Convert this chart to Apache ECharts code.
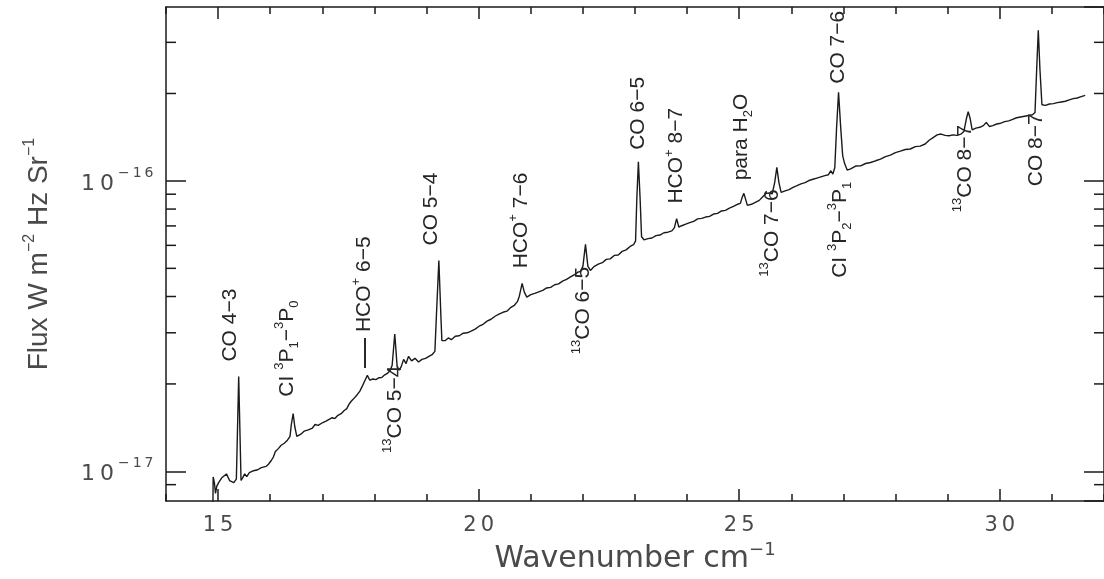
<!DOCTYPE html>
<html>
<head>
<meta charset="utf-8">
<script src="https://cdn.jsdelivr.net/npm/echarts@6/dist/echarts.min.js"></script>
<style>
  html, body { margin: 0; padding: 0; background: #ffffff; }
  #chart { width: 1104px; height: 579px; }
</style>
</head>
<body>
<div id="chart"></div>
<script>
// Submillimetre spectrum: wavenumber (cm^-1) and flux (W m^-2 Hz^-1 sr^-1)
const wavenumber = [
  14.90, 14.905, 14.93, 14.95, 14.975, 15.01, 15.07, 15.16, 15.22, 15.30,
  15.35, 15.37, 15.395, 15.42, 15.44, 15.47, 15.51, 15.55, 15.60, 15.68,
  15.76, 15.83, 15.92, 15.97, 16.02, 16.06, 16.10, 16.16, 16.21, 16.27,
  16.33, 16.38, 16.405, 16.44, 16.47, 16.51, 16.58, 16.65, 16.73, 16.81,
  16.86, 16.92, 17.00, 17.07, 17.13, 17.19, 17.24, 17.30, 17.36, 17.42,
  17.47, 17.51, 17.55, 17.59, 17.625, 17.673, 17.72, 17.77, 17.815, 17.864,
  17.911, 17.97, 18.026, 18.083, 18.14, 18.198, 18.255, 18.30, 18.34, 18.39,
  18.436, 18.474, 18.512, 18.56, 18.607, 18.655, 18.712, 18.779, 18.846, 18.912,
  18.98, 19.046, 19.113, 19.16, 19.189, 19.236, 19.275, 19.294, 19.36, 19.418,
  19.475, 19.551, 19.627, 19.704, 19.78, 19.856, 19.932, 20.009, 20.085, 20.161,
  20.237, 20.314, 20.39, 20.466, 20.542, 20.619, 20.685, 20.743, 20.78, 20.834,
  20.876, 20.924, 21.0, 21.076, 21.153, 21.229, 21.305, 21.381, 21.458, 21.534,
  21.61, 21.686, 21.763, 21.839, 21.906, 21.953, 22.0, 22.05, 22.096, 22.144,
  22.22, 22.296, 22.373, 22.449, 22.525, 22.601, 22.678, 22.754, 22.83, 22.906,
  22.973, 23.011, 23.036, 23.065, 23.097, 23.126, 23.173, 23.25, 23.326, 23.402,
  23.478, 23.555, 23.631, 23.707, 23.755, 23.799, 23.84, 23.897, 23.974, 24.05,
  24.126, 24.202, 24.279, 24.355, 24.431, 24.507, 24.584, 24.66, 24.736, 24.812,
  24.889, 24.965, 25.022, 25.057, 25.089, 25.123, 25.156, 25.232, 25.309, 25.385,
  25.461, 25.518, 25.575, 25.633, 25.68, 25.722, 25.762, 25.804, 25.88, 25.957,
  26.033, 26.109, 26.185, 26.262, 26.338, 26.414, 26.49, 26.567, 26.643, 26.71,
  26.758, 26.796, 26.834, 26.868, 26.906, 26.948, 26.986, 27.024, 27.072, 27.139,
  27.234, 27.33, 27.425, 27.52, 27.616, 27.711, 27.806, 27.901, 27.997, 28.092,
  28.187, 28.283, 28.378, 28.473, 28.569, 28.645, 28.721, 28.797, 28.874, 28.95,
  29.026, 29.102, 29.179, 29.255, 29.312, 29.36, 29.394, 29.432, 29.47, 29.541,
  29.617, 29.684, 29.742, 29.799, 29.866, 29.942, 30.018, 30.095, 30.171, 30.247,
  30.323, 30.4, 30.476, 30.552, 30.628, 30.676, 30.708, 30.739, 30.771, 30.809,
  30.876, 30.952, 31.029, 31.105, 31.181, 31.257, 31.334, 31.41, 31.486, 31.562,
  31.639
];
const flux = [
  7.5e-18, 9.57e-18, 9.1e-18, 8.4e-18, 8.9e-18, 9.15e-18, 9.5e-18, 9.8e-18, 9.3e-18, 9.15e-18,
  9.4e-18, 1.34e-17, 2.12e-17, 1.34e-17, 9.3e-18, 9.5e-18, 9.8e-18, 9.6e-18, 9.9e-18, 1.005e-17,
  1.013e-17, 1.03e-17, 1.04e-17, 1.06e-17, 1.09e-17, 1.12e-17, 1.17e-17, 1.20e-17, 1.23e-17, 1.25e-17,
  1.28e-17, 1.32e-17, 1.45e-17, 1.58e-17, 1.43e-17, 1.32e-17, 1.34e-17, 1.375e-17, 1.39e-17, 1.41e-17,
  1.45e-17, 1.44e-17, 1.47e-17, 1.49e-17, 1.51e-17, 1.53e-17, 1.52e-17, 1.56e-17, 1.58e-17, 1.62e-17,
  1.645e-17, 1.70e-17, 1.74e-17, 1.77e-17, 1.78e-17, 1.84e-17, 1.89e-17, 1.97e-17, 2.05e-17, 2.14e-17,
  2.06e-17, 2.08e-17, 2.07e-17, 2.10e-17, 2.105e-17, 2.15e-17, 2.18e-17, 2.22e-17, 2.32e-17, 2.97e-17,
  2.29e-17, 2.23e-17, 2.29e-17, 2.43e-17, 2.35e-17, 2.49e-17, 2.40e-17, 2.45e-17, 2.38e-17, 2.43e-17,
  2.45e-17, 2.49e-17, 2.53e-17, 2.59e-17, 3.43e-17, 5.32e-17, 3.43e-17, 2.82e-17, 2.82e-17, 2.88e-17,
  2.84e-17, 2.92e-17, 2.93e-17, 2.99e-17, 3.00e-17, 3.04e-17, 3.09e-17, 3.16e-17, 3.21e-17, 3.29e-17,
  3.34e-17, 3.42e-17, 3.48e-17, 3.53e-17, 3.56e-17, 3.67e-17, 3.73e-17, 3.84e-17, 4.01e-17, 4.44e-17,
  4.14e-17, 3.98e-17, 4.06e-17, 4.10e-17, 4.15e-17, 4.20e-17, 4.28e-17, 4.30e-17, 4.39e-17, 4.42e-17,
  4.52e-17, 4.58e-17, 4.67e-17, 4.76e-17, 4.85e-17, 4.88e-17, 5.08e-17, 6.05e-17, 5.08e-17, 4.92e-17,
  5.08e-17, 5.17e-17, 5.23e-17, 5.37e-17, 5.39e-17, 5.54e-17, 5.56e-17, 5.72e-17, 5.79e-17, 5.95e-17,
  6.03e-17, 6.22e-17, 8.78e-17, 1.163e-16, 8.78e-17, 6.42e-17, 6.27e-17, 6.33e-17, 6.36e-17, 6.48e-17,
  6.51e-17, 6.63e-17, 6.66e-17, 6.73e-17, 6.89e-17, 7.42e-17, 6.94e-17, 7.01e-17, 7.10e-17, 7.18e-17,
  7.26e-17, 7.40e-17, 7.43e-17, 7.51e-17, 7.55e-17, 7.69e-17, 7.73e-17, 7.88e-17, 7.92e-17, 8.06e-17,
  8.17e-17, 8.31e-17, 8.37e-17, 8.78e-17, 9.06e-17, 8.64e-17, 8.24e-17, 8.31e-17, 8.44e-17, 8.57e-17,
  8.85e-17, 9.06e-17, 9.09e-17, 9.02e-17, 9.87e-17, 1.114e-16, 9.87e-17, 9.13e-17, 9.24e-17, 9.33e-17,
  9.50e-17, 9.63e-17, 9.77e-17, 9.86e-17, 1.003e-16, 1.013e-16, 1.023e-16, 1.033e-16, 1.043e-16, 1.050e-16,
  1.084e-16, 1.055e-16, 1.11e-16, 1.52e-16, 2.02e-16, 1.52e-16, 1.22e-16, 1.145e-16, 1.09e-16, 1.10e-16,
  1.125e-16, 1.127e-16, 1.148e-16, 1.157e-16, 1.173e-16, 1.188e-16, 1.213e-16, 1.227e-16, 1.252e-16, 1.266e-16,
  1.283e-16, 1.288e-16, 1.312e-16, 1.318e-16, 1.34e-16, 1.38e-16, 1.41e-16, 1.44e-16, 1.45e-16, 1.435e-16,
  1.43e-16, 1.44e-16, 1.435e-16, 1.45e-16, 1.48e-16, 1.64e-16, 1.73e-16, 1.64e-16, 1.50e-16, 1.52e-16,
  1.53e-16, 1.55e-16, 1.59e-16, 1.54e-16, 1.55e-16, 1.57e-16, 1.58e-16, 1.60e-16, 1.61e-16, 1.63e-16,
  1.65e-16, 1.66e-16, 1.67e-16, 1.68e-16, 1.69e-16, 1.72e-16, 2.42e-16, 3.30e-16, 2.42e-16, 1.83e-16,
  1.82e-16, 1.84e-16, 1.845e-16, 1.86e-16, 1.87e-16, 1.88e-16, 1.90e-16, 1.92e-16, 1.93e-16, 1.95e-16,
  1.97e-16
];

// Identified transitions: rest wavenumber (cm^-1) and rich-text name
const lineWavenumbers = [
  15.38, 16.42, 17.85, 18.38, 19.22, 20.82, 22.05, 23.07,
  23.79, 25.09, 25.72, 26.91, 27.00, 29.40, 30.75
];
const lineNames = [
  'CO 4−3',
  'CI {sup|3}P{sub|1}−{sup|3}P{sub|0}',
  '{dash|—} HCO{sup|+} 6−5',
  '{sup|13}CO 5−4',
  'CO 5−4',
  'HCO{sup|+} 7−6',
  '{sup|13}CO 6−5',
  'CO 6−5',
  'HCO{sup|+} 8−7',
  'para H{sub|2}O',
  '{sup|13}CO 7−6',
  'CO 7−6',
  'CI {sup|3}P{sub|2}−{sup|3}P{sub|1}',
  '{sup|13}CO 8−7',
  'CO 8−7'
];

// Axis ranges and tick values
const X_MIN = 14, X_MAX = 32;
const Y_MIN = 7.9e-18, Y_MAX = 3.97e-16;
const xMajorTicks = [15, 20, 25, 30];
const yMinorTicks = [9e-18, 2e-17, 3e-17, 4e-17, 5e-17, 6e-17, 7e-17, 8e-17, 9e-17, 2e-16, 3e-16];

// Label placement relative to each line's peak (pixels): above or below the trace
const LABEL_LAYOUT = [
  { below: false, dx: -8.5, dy: -15 },
  { below: false, dx: -6, dy: -17 },
  { below: false, dx: -3, dy: -7.5 },
  { below: true,  dx: 0,  dy: 31.5 },
  { below: false, dx: -8, dy: -15 },
  { below: false, dx: -1, dy: -15 },
  { below: true,  dx: -2, dy: 22.5 },
  { below: false, dx: 0,  dy: -12 },
  { below: false, dx: 0,  dy: -15 },
  { below: false, dx: -3, dy: -13 },
  { below: true,  dx: -5, dy: 22 },
  { below: false, dx: 0,  dy: -8.5 },
  { below: true,  dx: -3, dy: 26 },
  { below: true,  dx: -3, dy: 13 },
  { below: true,  dx: -2, dy: 83 }
];

const INK = '#1a1a1a';
const LABEL_INK = '#262626';
const AXIS_TEXT = '#4a4a4a';
const TICK_FONT = 'DejaVu Sans';
const LABEL_FONT = 'Liberation Sans';

const spectrum = wavenumber.map((w, i) => [w, flux[i]]);

const frameLine = { show: true, onZero: false, lineStyle: { color: INK, width: 1.5 } };
const tickStyle = { color: INK, width: 1.5 };

// Spread each character into its own rich token so the digits sit apart
function spaced(str, style) {
  return str.split('').map(c => '{' + style + '|' + c + '}').join('');
}

function xTickLabel(v) {
  return spaced(String(v), 'd');
}

function yTickLabel(v) {
  const e = Math.log10(v);
  if (Math.abs(e - Math.round(e)) > 1e-6) return '';
  const p = Math.round(e);
  return spaced('10', 'b') + spaced((p < 0 ? '−' + (-p) : String(p)), 's');
}

const chart = echarts.init(document.getElementById('chart'), null, { renderer: 'canvas' });

const option = {
  animation: false,
  backgroundColor: '#ffffff',
  grid: { left: 166, right: -6, top: 7, bottom: 71, containLabel: false },
  xAxis: [
    {
      type: 'value', min: X_MIN, max: X_MAX, interval: 1, position: 'bottom',
      axisLine: frameLine,
      axisTick: { show: true, inside: true, length: 7, lineStyle: tickStyle },
      axisLabel: {
        customValues: xMajorTicks, margin: 14, formatter: xTickLabel,
        rich: {
          d: { fontFamily: TICK_FONT, fontSize: 21, color: AXIS_TEXT, padding: [0, 2] }
        }
      },
      splitLine: { show: false },
      name: '{t|Wavenumber cm}{s|−1}',
      nameLocation: 'middle', nameGap: 32,
      nameTextStyle: {
        rich: {
          t: { fontFamily: TICK_FONT, fontSize: 30, color: AXIS_TEXT, lineHeight: 36 },
          s: { fontFamily: TICK_FONT, fontSize: 18, color: AXIS_TEXT, lineHeight: 20, verticalAlign: 'top' }
        }
      }
    },
    {
      type: 'value', min: X_MIN, max: X_MAX, position: 'bottom',
      axisLine: { show: false },
      axisTick: { show: true, inside: true, length: 12, customValues: xMajorTicks, lineStyle: tickStyle },
      axisLabel: { show: false }, splitLine: { show: false }
    },
    {
      type: 'value', min: X_MIN, max: X_MAX, interval: 1, position: 'top',
      axisLine: frameLine,
      axisTick: { show: true, inside: true, length: 7, lineStyle: tickStyle },
      axisLabel: { show: false }, splitLine: { show: false }
    },
    {
      type: 'value', min: X_MIN, max: X_MAX, position: 'top',
      axisLine: { show: false },
      axisTick: { show: true, inside: true, length: 12, customValues: xMajorTicks, lineStyle: tickStyle },
      axisLabel: { show: false }, splitLine: { show: false }
    }
  ],
  yAxis: [
    {
      type: 'log', logBase: 10, min: Y_MIN, max: Y_MAX, position: 'left',
      axisLine: frameLine,
      axisTick: { show: true, inside: true, length: 20, lineStyle: tickStyle },
      axisLabel: {
        formatter: yTickLabel, margin: 11, showMinLabel: false, showMaxLabel: false,
        rich: {
          b: { fontFamily: TICK_FONT, fontSize: 22, color: AXIS_TEXT, lineHeight: 30, padding: [6, 2.5, 0, 2.5] },
          s: { fontFamily: TICK_FONT, fontSize: 14, color: AXIS_TEXT, lineHeight: 16, verticalAlign: 'top', padding: [0, 1.5] }
        }
      },
      splitLine: { show: false },
      name: '{t|Flux W m}{s|−2}{t| Hz Sr}{s|−1}',
      nameLocation: 'middle', nameGap: 110,
      nameTextStyle: {
        rich: {
          t: { fontFamily: LABEL_FONT, fontSize: 28, color: AXIS_TEXT, lineHeight: 34 },
          s: { fontFamily: LABEL_FONT, fontSize: 16, color: AXIS_TEXT, lineHeight: 18, verticalAlign: 'top' }
        }
      }
    },
    {
      type: 'log', logBase: 10, min: Y_MIN, max: Y_MAX, position: 'right',
      axisLine: frameLine,
      axisTick: { show: true, inside: true, length: 20, lineStyle: tickStyle },
      axisLabel: { show: false }, splitLine: { show: false }
    }
  ],
  series: [
    {
      name: 'spectrum',
      type: 'line',
      xAxisIndex: 0, yAxisIndex: 0,
      data: spectrum,
      showSymbol: false, symbol: 'none',
      lineStyle: { color: INK, width: 1.4 },
      clip: true, silent: true, z: 3
    },
    {
      // minor decade ticks on both vertical frame edges
      name: 'yMinorTicks',
      type: 'custom',
      xAxisIndex: 0, yAxisIndex: 0,
      data: yMinorTicks.map(v => [X_MIN, v]),
      encode: { x: 0, y: 1 },
      silent: true, clip: false, z: 4,
      renderItem: function (params, api) {
        const v = api.value(1);
        const l = api.coord([X_MIN, v]);
        const r = api.coord([X_MAX, v]);
        return {
          type: 'group',
          children: [
            { type: 'line', shape: { x1: l[0], y1: l[1], x2: l[0] + 10, y2: l[1] }, style: { stroke: INK, lineWidth: 1.5 } },
            { type: 'line', shape: { x1: r[0], y1: r[1], x2: r[0] - 10, y2: r[1] }, style: { stroke: INK, lineWidth: 1.5 } }
          ]
        };
      }
    }
  ]
};

chart.setOption(option);

// Place the transition names next to their peaks, rotated to read upwards
function peakIndex(w0) {
  let best = -1;
  for (let i = 0; i < wavenumber.length; i++) {
    if (Math.abs(wavenumber[i] - w0) <= 0.03 && (best < 0 || flux[i] > flux[best])) best = i;
  }
  return best;
}

const LABEL_RICH = {
  sup: { fontFamily: LABEL_FONT, fontSize: 13, lineHeight: 14, verticalAlign: 'top', fill: LABEL_INK },
  sub: { fontFamily: LABEL_FONT, fontSize: 13, lineHeight: 14, verticalAlign: 'bottom', fill: LABEL_INK },
  dash: { fontFamily: LABEL_FONT, fontSize: 30, lineHeight: 28, verticalAlign: 'middle', fill: LABEL_INK }
};

const labelGraphics = lineNames.map((name, i) => {
  const k = peakIndex(lineWavenumbers[i]);
  const p = chart.convertToPixel({ seriesIndex: 0 }, [wavenumber[k], flux[k]]);
  const lay = LABEL_LAYOUT[i];
  return {
    type: 'text',
    x: p[0] + lay.dx,
    y: p[1] + lay.dy,
    rotation: Math.PI / 2,
    silent: true,
    z: 10,
    style: {
      text: name,
      align: lay.below ? 'right' : 'left',
      verticalAlign: 'middle',
      fontFamily: LABEL_FONT,
      fontSize: 21,
      lineHeight: 28,
      fill: LABEL_INK,
      rich: LABEL_RICH
    }
  };
});

chart.setOption({ graphic: labelGraphics });
</script>
</body>
</html>
